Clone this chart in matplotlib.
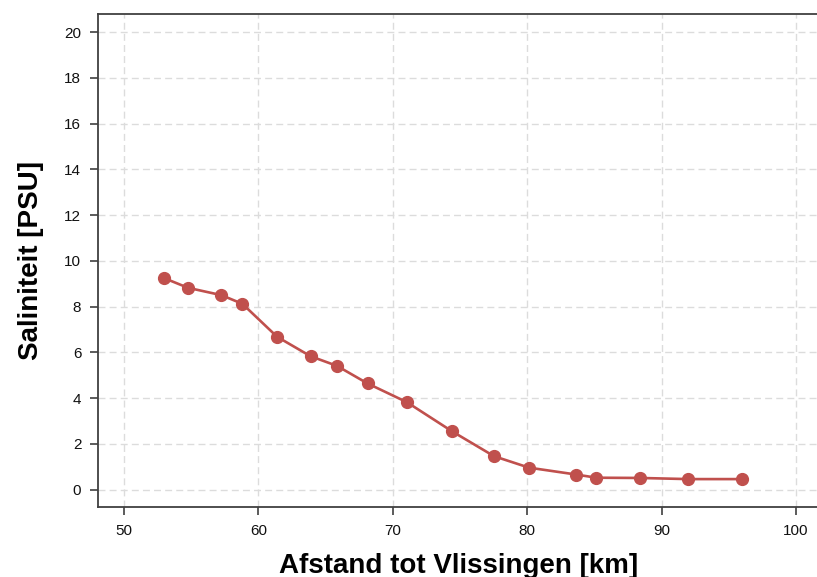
import matplotlib
matplotlib.use("Agg")
import matplotlib.pyplot as plt

plt.rcParams['font.family'] = ['Liberation Sans', 'DejaVu Sans']

# afstand tot Vlissingen [km] en saliniteit [PSU]
afstand = [52.96, 54.77, 57.25, 58.81, 61.39, 63.88, 65.84, 68.12, 71.05,
           74.40, 77.53, 80.13, 83.63, 85.15, 88.35, 91.99, 95.94]
saliniteit = [9.25, 8.82, 8.50, 8.12, 6.68, 5.83, 5.41, 4.64, 3.82,
              2.55, 1.46, 0.96, 0.66, 0.52, 0.51, 0.46, 0.46]

xticks = [50, 60, 70, 80, 90, 100]
yticks = [0, 2, 4, 6, 8, 10, 12, 14, 16, 18, 20]

fig = plt.figure(figsize=(8.17, 5.77), dpi=100)
ax = fig.add_axes([0.12, 0.1213, 0.8824, 0.8553])

ax.plot(afstand, saliniteit, color='#c0504d', lw=1.9, marker='o', ms=8.5,
        zorder=3)

ax.set_xlim(48.07, 101.7)
ax.set_ylim(-0.76, 20.81)
ax.set_xticks(xticks)
ax.set_yticks(yticks)
ax.grid(True, color='#dcdcdc', ls=(0, (5, 3)), lw=1.0, zorder=0)

for s in ['left', 'bottom', 'top']:
    ax.spines[s].set_color('#404040')
    ax.spines[s].set_linewidth(1.3)
ax.spines['right'].set_visible(False)

ax.tick_params(direction='out', length=6, width=1.2, color='#404040',
               labelsize=11, labelcolor='#111111', pad=6)

ax.set_xlabel('Afstand tot Vlissingen [km]', fontsize=20, fontweight='bold',
              labelpad=11)
ax.set_ylabel('Saliniteit [PSU]', fontsize=20, fontweight='bold',
              labelpad=15)

fig.savefig('out.png', dpi=100)
